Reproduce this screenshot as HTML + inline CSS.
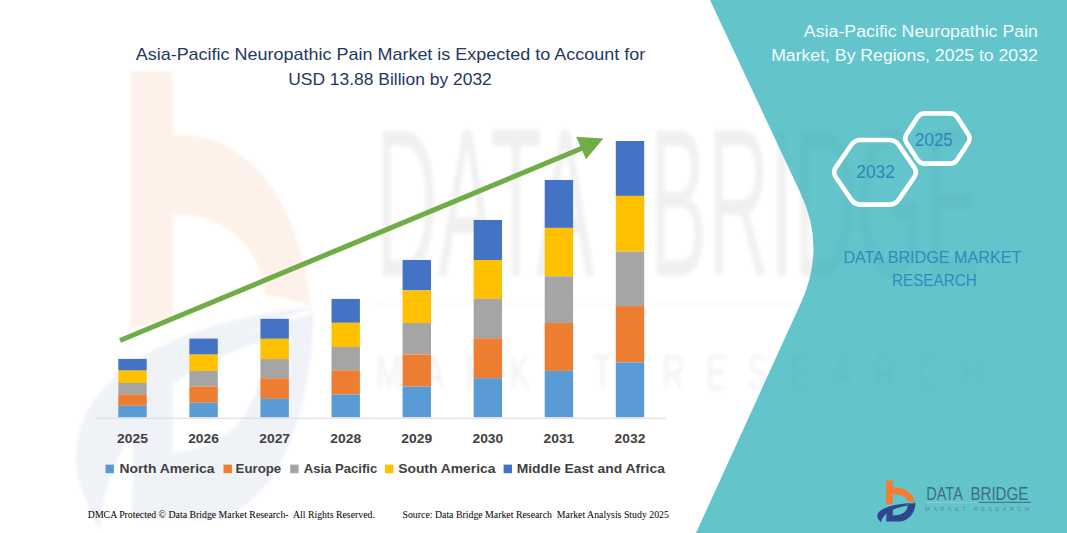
<!DOCTYPE html>
<html><head><meta charset="utf-8"><title>Asia-Pacific Neuropathic Pain Market</title>
<style>html,body{margin:0;padding:0;background:#fff;}body{width:1067px;height:533px;overflow:hidden;}svg{display:block;}text{font-family:"Liberation Sans",sans-serif;}.serif{font-family:"Liberation Serif",serif;}</style>
</head><body>
<svg width="1067" height="533" viewBox="0 0 1067 533">
<defs><filter id="wb" x="-5%" y="-20%" width="110%" height="140%"><feGaussianBlur stdDeviation="2.2"/></filter><filter id="wb2" x="-5%" y="-5%" width="110%" height="110%"><feGaussianBlur stdDeviation="1.5"/></filter></defs>
<rect x="0" y="0" width="1067" height="533" fill="#ffffff"/>
<g opacity="0.03" filter="url(#wb)"><text transform="translate(375.2,275.7) scale(1,1.70)" x="0" y="0" font-size="124" fill="#000" textLength="219" lengthAdjust="spacingAndGlyphs">DATA</text><text transform="translate(649.4,275.7) scale(1,1.70)" x="0" y="0" font-size="124" fill="#000" textLength="332" lengthAdjust="spacingAndGlyphs">BRIDGE</text><text transform="translate(376,389.5) scale(1,1.58)" x="0" y="0" font-size="32" fill="#000" textLength="608" lengthAdjust="spacing">MARKET RESEARCH</text><rect x="375" y="303.5" width="272" height="1.8" fill="#F47D30"/><rect x="375" y="303.5" width="272" height="1.8" fill="#F47D30"/><rect x="650" y="303.5" width="357" height="1.6" fill="#000"/></g>
<path d="M710,0 L800,192 Q827,248 800,305 L696,533 L1067,533 L1067,0 Z" fill="#64C4CC"/>
<g opacity="0.10" filter="url(#wb2)"><g transform="translate(-5354.0,-5296.1) scale(6.19,11.15)"><g transform="translate(868,474) scale(0.10132)"><path d="M178,73 L245,73 L245,292 L178,300 Z" fill="#F47D30"/><path d="M245,130 C330,125 440,160 465,280 L392,270 C385,225 320,197 245,200 Z" fill="#F47D30"/><path d="M185,345 L180,468 L300,470 C400,465 465,390 470,287 C380,302 260,320 185,345 Z M245,350 C290,332 340,320 392,311 C390,370 340,408 245,410 Z" fill="#6C86BA" fill-rule="evenodd"/><path d="M92,405 C105,340 250,292 482,281 C330,302 150,362 128,478 C105,452 86,432 92,405 Z" fill="#6C86BA"/></g></g></g>
<g opacity="0.025" filter="url(#wb)"><text transform="translate(375.2,275.7) scale(1,1.70)" x="0" y="0" font-size="124" fill="#000" textLength="219" lengthAdjust="spacingAndGlyphs">DATA</text><text transform="translate(649.4,275.7) scale(1,1.70)" x="0" y="0" font-size="124" fill="#000" textLength="332" lengthAdjust="spacingAndGlyphs">BRIDGE</text><text transform="translate(376,389.5) scale(1,1.58)" x="0" y="0" font-size="32" fill="#000" textLength="608" lengthAdjust="spacing">MARKET RESEARCH</text><rect x="375" y="303.5" width="272" height="1.8" fill="#F47D30"/><rect x="375" y="303.5" width="272" height="1.8" fill="#F47D30"/><rect x="650" y="303.5" width="357" height="1.6" fill="#000"/></g>
<rect x="95.7" y="417.7" width="570" height="1" fill="#D9D9D9"/>
<rect x="118.30" y="358.90" width="28.40" height="11.70" fill="#4472C4"/>
<rect x="118.30" y="370.60" width="28.40" height="12.40" fill="#FFC000"/>
<rect x="118.30" y="383.00" width="28.40" height="11.30" fill="#A5A5A5"/>
<rect x="118.30" y="394.30" width="28.40" height="11.50" fill="#ED7D31"/>
<rect x="118.30" y="405.80" width="28.40" height="11.40" fill="#5B9BD5"/>
<rect x="189.37" y="338.60" width="28.40" height="16.00" fill="#4472C4"/>
<rect x="189.37" y="354.60" width="28.40" height="16.30" fill="#FFC000"/>
<rect x="189.37" y="370.90" width="28.40" height="15.50" fill="#A5A5A5"/>
<rect x="189.37" y="386.40" width="28.40" height="16.30" fill="#ED7D31"/>
<rect x="189.37" y="402.70" width="28.40" height="14.50" fill="#5B9BD5"/>
<rect x="260.44" y="318.80" width="28.40" height="20.00" fill="#4472C4"/>
<rect x="260.44" y="338.80" width="28.40" height="20.30" fill="#FFC000"/>
<rect x="260.44" y="359.10" width="28.40" height="19.10" fill="#A5A5A5"/>
<rect x="260.44" y="378.20" width="28.40" height="20.60" fill="#ED7D31"/>
<rect x="260.44" y="398.80" width="28.40" height="18.40" fill="#5B9BD5"/>
<rect x="331.51" y="298.90" width="28.40" height="23.90" fill="#4472C4"/>
<rect x="331.51" y="322.80" width="28.40" height="24.20" fill="#FFC000"/>
<rect x="331.51" y="347.00" width="28.40" height="23.30" fill="#A5A5A5"/>
<rect x="331.51" y="370.30" width="28.40" height="24.20" fill="#ED7D31"/>
<rect x="331.51" y="394.50" width="28.40" height="22.70" fill="#5B9BD5"/>
<rect x="402.58" y="260.00" width="28.40" height="30.40" fill="#4472C4"/>
<rect x="402.58" y="290.40" width="28.40" height="32.60" fill="#FFC000"/>
<rect x="402.58" y="323.00" width="28.40" height="31.50" fill="#A5A5A5"/>
<rect x="402.58" y="354.50" width="28.40" height="32.10" fill="#ED7D31"/>
<rect x="402.58" y="386.60" width="28.40" height="30.60" fill="#5B9BD5"/>
<rect x="473.65" y="220.00" width="28.40" height="40.00" fill="#4472C4"/>
<rect x="473.65" y="260.00" width="28.40" height="38.80" fill="#FFC000"/>
<rect x="473.65" y="298.80" width="28.40" height="39.40" fill="#A5A5A5"/>
<rect x="473.65" y="338.20" width="28.40" height="40.00" fill="#ED7D31"/>
<rect x="473.65" y="378.20" width="28.40" height="39.00" fill="#5B9BD5"/>
<rect x="544.72" y="180.00" width="28.40" height="47.90" fill="#4472C4"/>
<rect x="544.72" y="227.90" width="28.40" height="48.40" fill="#FFC000"/>
<rect x="544.72" y="276.30" width="28.40" height="46.70" fill="#A5A5A5"/>
<rect x="544.72" y="323.00" width="28.40" height="47.90" fill="#ED7D31"/>
<rect x="544.72" y="370.90" width="28.40" height="46.30" fill="#5B9BD5"/>
<rect x="615.79" y="141.00" width="28.40" height="54.90" fill="#4472C4"/>
<rect x="615.79" y="195.90" width="28.40" height="55.70" fill="#FFC000"/>
<rect x="615.79" y="251.60" width="28.40" height="54.50" fill="#A5A5A5"/>
<rect x="615.79" y="306.10" width="28.40" height="56.30" fill="#ED7D31"/>
<rect x="615.79" y="362.40" width="28.40" height="54.80" fill="#5B9BD5"/>
<text x="132.50" y="443" font-size="13.3" font-weight="bold" fill="#404040" text-anchor="middle" textLength="30.8" lengthAdjust="spacingAndGlyphs">2025</text>
<text x="203.57" y="443" font-size="13.3" font-weight="bold" fill="#404040" text-anchor="middle" textLength="30.8" lengthAdjust="spacingAndGlyphs">2026</text>
<text x="274.64" y="443" font-size="13.3" font-weight="bold" fill="#404040" text-anchor="middle" textLength="30.8" lengthAdjust="spacingAndGlyphs">2027</text>
<text x="345.71" y="443" font-size="13.3" font-weight="bold" fill="#404040" text-anchor="middle" textLength="30.8" lengthAdjust="spacingAndGlyphs">2028</text>
<text x="416.78" y="443" font-size="13.3" font-weight="bold" fill="#404040" text-anchor="middle" textLength="30.8" lengthAdjust="spacingAndGlyphs">2029</text>
<text x="487.85" y="443" font-size="13.3" font-weight="bold" fill="#404040" text-anchor="middle" textLength="30.8" lengthAdjust="spacingAndGlyphs">2030</text>
<text x="558.92" y="443" font-size="13.3" font-weight="bold" fill="#404040" text-anchor="middle" textLength="30.8" lengthAdjust="spacingAndGlyphs">2031</text>
<text x="629.99" y="443" font-size="13.3" font-weight="bold" fill="#404040" text-anchor="middle" textLength="30.8" lengthAdjust="spacingAndGlyphs">2032</text>
<line x1="120" y1="340.5" x2="585" y2="147" stroke="#70AD47" stroke-width="5.1"/>
<polygon points="603.4,138.5 576.2,136.8 586,159.2" fill="#70AD47"/>
<rect x="105.5" y="464.6" width="8.4" height="8.6" fill="#5B9BD5"/>
<text x="119.5" y="473.3" font-size="13.6" font-weight="bold" fill="#404040" textLength="95.0" lengthAdjust="spacingAndGlyphs">North America</text>
<rect x="223.5" y="464.6" width="8.4" height="8.6" fill="#ED7D31"/>
<text x="235.6" y="473.3" font-size="13.6" font-weight="bold" fill="#404040" textLength="45.6" lengthAdjust="spacingAndGlyphs">Europe</text>
<rect x="290.2" y="464.6" width="8.4" height="8.6" fill="#A5A5A5"/>
<text x="303.7" y="473.3" font-size="13.6" font-weight="bold" fill="#404040" textLength="73.6" lengthAdjust="spacingAndGlyphs">Asia Pacific</text>
<rect x="385.0" y="464.6" width="8.4" height="8.6" fill="#FFC000"/>
<text x="398.2" y="473.3" font-size="13.6" font-weight="bold" fill="#404040" textLength="97.3" lengthAdjust="spacingAndGlyphs">South America</text>
<rect x="503.6" y="464.6" width="8.4" height="8.6" fill="#4472C4"/>
<text x="516.7" y="473.3" font-size="13.6" font-weight="bold" fill="#404040" textLength="148.2" lengthAdjust="spacingAndGlyphs">Middle East and Africa</text>
<text x="135.7" y="60.2" font-size="15.7" fill="#24375E" textLength="509.5" lengthAdjust="spacingAndGlyphs">Asia-Pacific Neuropathic Pain Market is Expected to Account for</text>
<text x="288.2" y="84.7" font-size="15.7" fill="#24375E" textLength="203.6" lengthAdjust="spacingAndGlyphs">USD 13.88 Billion by 2032</text>
<text x="803.8" y="37.3" font-size="15.8" fill="#F2FCFC" textLength="234.2" lengthAdjust="spacingAndGlyphs">Asia-Pacific Neuropathic Pain</text>
<text x="771.2" y="61.2" font-size="15.8" fill="#F2FCFC" textLength="266.6" lengthAdjust="spacingAndGlyphs">Market, By Regions, 2025 to 2032</text>
<path d="M835.81,177.24 Q832.40,172.30 835.81,167.36 L851.29,144.94 Q854.70,140.00 860.70,140.00 L889.30,140.00 Q895.30,140.00 898.71,144.94 L914.19,167.36 Q917.60,172.30 914.19,177.24 L898.71,199.66 Q895.30,204.60 889.30,204.60 L860.70,204.60 Q854.70,204.60 851.29,199.66 Z" fill="none" stroke="#ffffff" stroke-width="4.6" stroke-linejoin="round"/>
<path d="M906.52,142.69 Q903.80,138.50 906.52,134.31 L917.38,117.59 Q920.10,113.40 925.10,113.40 L949.70,113.40 Q954.70,113.40 957.42,117.59 L968.28,134.31 Q971.00,138.50 968.28,142.69 L957.42,159.41 Q954.70,163.60 949.70,163.60 L925.10,163.60 Q920.10,163.60 917.38,159.41 Z" fill="none" stroke="#ffffff" stroke-width="4.6" stroke-linejoin="round"/>
<text x="856.2" y="177.8" font-size="19" fill="#2E86B8" textLength="38.8" lengthAdjust="spacingAndGlyphs">2032</text>
<text x="915" y="146.0" font-size="19" fill="#2E86B8" textLength="37.8" lengthAdjust="spacingAndGlyphs">2025</text>
<text x="843.4" y="262.6" font-size="16.8" fill="#2E8BBE" textLength="177.9" lengthAdjust="spacingAndGlyphs">DATA BRIDGE MARKET</text>
<text x="892" y="286.2" font-size="16.8" fill="#2E8BBE" textLength="84.7" lengthAdjust="spacingAndGlyphs">RESEARCH</text>
<text class="serif" x="87.8" y="518.0" font-size="9.8" fill="#000" textLength="287.1" lengthAdjust="spacingAndGlyphs" xml:space="preserve">DMCA Protected © Data Bridge Market Research-  All Rights Reserved.</text>
<text class="serif" x="402.5" y="517.8" font-size="9.8" fill="#000" textLength="266.4" lengthAdjust="spacingAndGlyphs" xml:space="preserve">Source: Data Bridge Market Research  Market Analysis Study 2025</text>
<g transform="translate(868,474) scale(0.10132)"><path d="M178,64 L245,64 L245,292 L178,300 Z" fill="#F47D30"/><path d="M245,130 C330,125 440,160 465,280 L392,270 C385,225 320,197 245,200 Z" fill="#F47D30"/><path d="M185,345 L180,468 L300,470 C400,465 465,390 470,287 C380,302 260,320 185,345 Z M245,350 C290,332 340,320 392,311 C390,370 340,408 245,410 Z" fill="#2D468C" fill-rule="evenodd"/><path d="M92,405 C105,340 250,292 482,281 C330,302 150,362 128,478 C105,452 86,432 92,405 Z" fill="#2D468C"/></g>
<text x="926.3" y="499.6" font-size="18.3" fill="#3F6E80" textLength="36.5" lengthAdjust="spacingAndGlyphs">DATA</text>
<text x="970.4" y="499.6" font-size="18.3" fill="#3F6E80" textLength="58" lengthAdjust="spacingAndGlyphs">BRIDGE</text>
<rect x="978.5" y="501.8" width="52.3" height="1" fill="#3A6A96"/>
<rect x="926.7" y="502" width="50" height="1" fill="#86cdd2"/>
<text x="925" y="511.4" font-size="5.8" fill="#4F8D98" textLength="104" lengthAdjust="spacing">MARKET RESEARCH</text>
</svg></body></html>
